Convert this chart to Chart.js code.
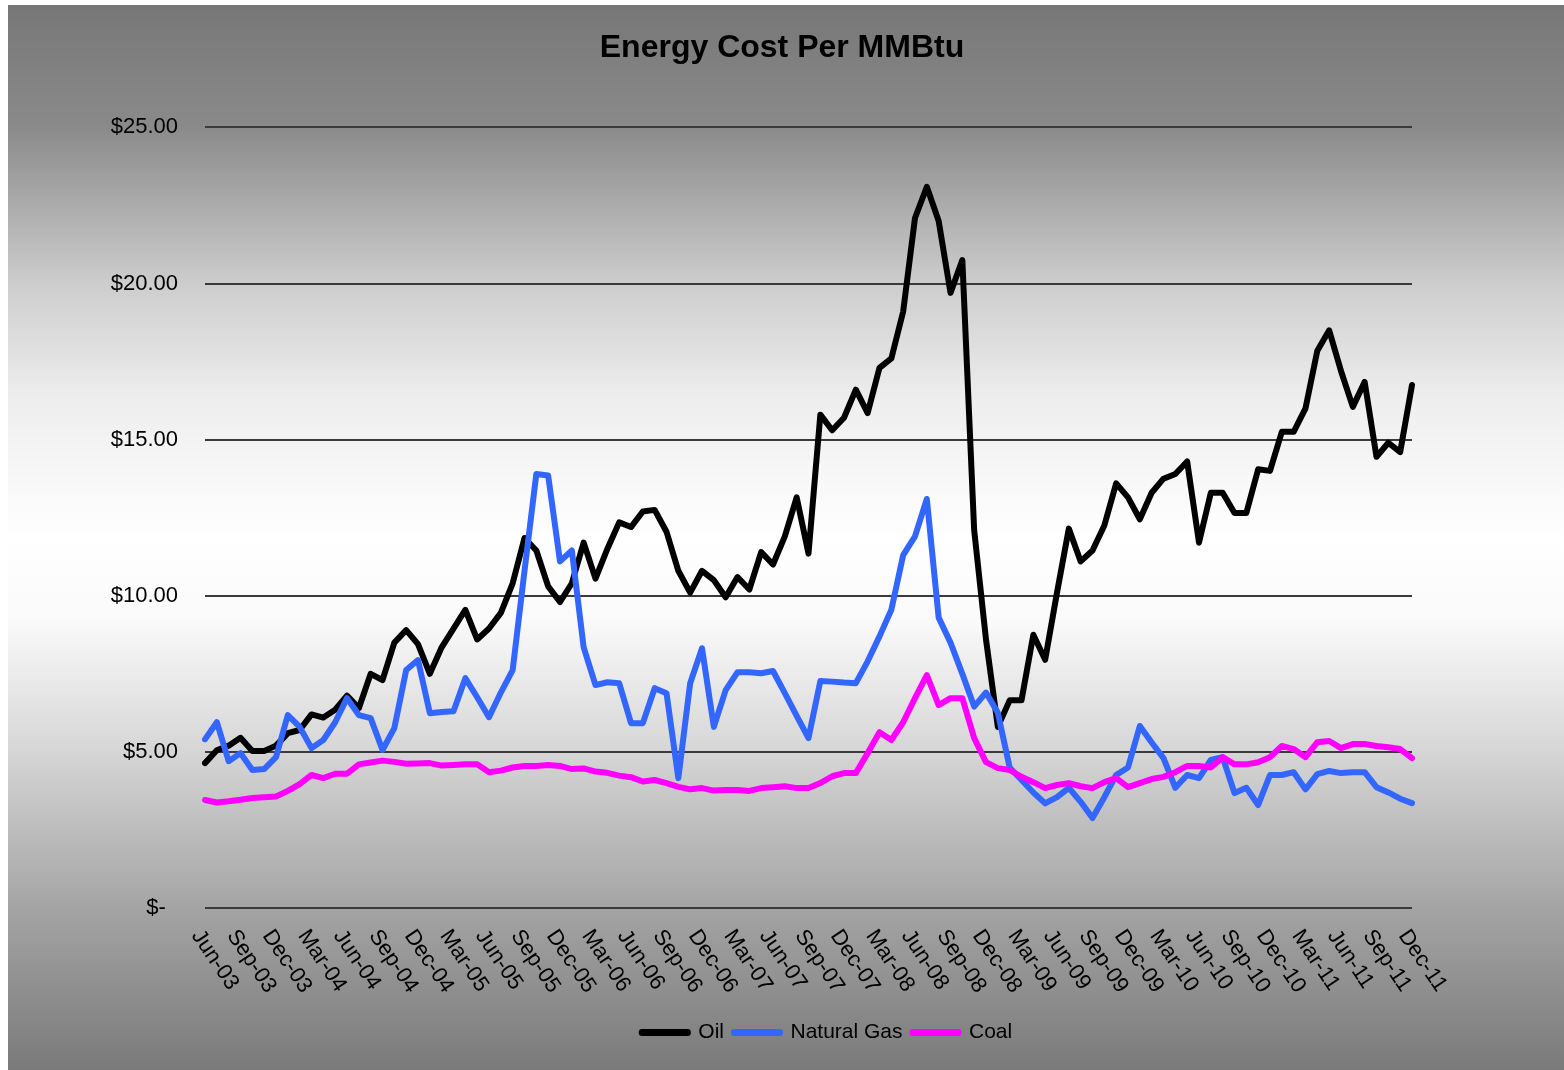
<!DOCTYPE html>
<html>
<head>
<meta charset="utf-8">
<title>Energy Cost Per MMBtu</title>
<script src="https://cdn.jsdelivr.net/npm/chart.js@4.4.1/dist/chart.umd.min.js"></script>
<style>
  html, body { margin: 0; padding: 0; background: #ffffff; }
  canvas { display: block; }
</style>
</head>
<body>
<canvas id="chart" width="1564" height="1070"></canvas>
<script>
// months Jun-03 .. Dec-11
const monthNames = ['Jan', 'Feb', 'Mar', 'Apr', 'May', 'Jun', 'Jul', 'Aug', 'Sep', 'Oct', 'Nov', 'Dec'];
const months = [];
for (let y = 2003; y <= 2011; y++) {
    for (let m = 0; m < 12; m++) {
        if (y === 2003 && m < 5) continue;
        months.push(monthNames[m] + '-' + String(y).slice(2));
    }
}

const oil = [
    4.64, 5.05, 5.2, 5.45, 5.03, 5.03, 5.2, 5.6, 5.7, 6.2,
    6.1, 6.35, 6.8, 6.4, 7.5, 7.3, 8.5, 8.9, 8.45, 7.5,
    8.35, 8.95, 9.55, 8.6, 8.95, 9.45, 10.4, 11.85, 11.45, 10.3,
    9.8, 10.4, 11.7, 10.55, 11.5, 12.35, 12.2, 12.7, 12.75, 12.05,
    10.8, 10.1, 10.8, 10.5, 9.95, 10.6, 10.2, 11.4, 11.0, 11.9,
    13.15, 11.35, 15.8, 15.3, 15.7, 16.6, 15.85, 17.3, 17.6, 19.1,
    22.1, 23.1, 22.0, 19.7, 20.75, 12.1, 8.6, 5.8, 6.65, 6.65,
    8.75, 7.95, 10.1, 12.15, 11.1, 11.45, 12.25, 13.6, 13.15, 12.45,
    13.3, 13.75, 13.9, 14.3, 11.7, 13.3, 13.3, 12.65, 12.65, 14.05,
    14.0, 15.25, 15.25, 16.0, 17.85, 18.5, 17.2, 16.05, 16.85, 14.45,
    14.9, 14.6, 16.75
];

const naturalGas = [
    5.4, 5.95, 4.7, 4.96, 4.42, 4.45, 4.83, 6.18, 5.8, 5.12,
    5.38, 5.95, 6.72, 6.18, 6.08, 5.06, 5.76, 7.62, 7.94, 6.24,
    6.28, 6.3, 7.36, 6.75, 6.11, 6.9, 7.62, 10.8, 13.9, 13.85,
    11.1, 11.45, 8.35, 7.14, 7.23, 7.2, 5.92, 5.92, 7.04, 6.88,
    4.16, 7.2, 8.32, 5.8, 6.98, 7.55, 7.55, 7.52, 7.59, 6.88,
    6.15, 5.44, 7.27, 7.25, 7.22, 7.2, 7.9, 8.7, 9.55, 11.3,
    11.9, 13.1, 9.3, 8.5, 7.5, 6.45, 6.9, 6.25, 4.5, 4.1,
    3.7, 3.35, 3.55, 3.85, 3.4, 2.88, 3.55, 4.26, 4.5, 5.83,
    5.3, 4.8, 3.85, 4.26, 4.16, 4.74, 4.83, 3.68, 3.85, 3.3,
    4.26, 4.26, 4.35, 3.8, 4.29, 4.39, 4.32, 4.35, 4.35, 3.87,
    3.7, 3.5, 3.36
];

const coal = [
    3.46, 3.38, 3.42, 3.47, 3.52, 3.55, 3.57, 3.75, 3.97, 4.26,
    4.16, 4.3, 4.3, 4.6, 4.66, 4.72, 4.68, 4.62, 4.63, 4.64,
    4.56, 4.58, 4.6, 4.6, 4.35, 4.4, 4.5, 4.55, 4.55, 4.58,
    4.55, 4.45, 4.47, 4.37, 4.33, 4.24, 4.19, 4.05, 4.1, 4.0,
    3.88, 3.8, 3.84, 3.76, 3.78, 3.78, 3.75, 3.84, 3.87, 3.9,
    3.84, 3.84, 4.0, 4.22, 4.32, 4.32, 4.96, 5.63, 5.38, 5.95,
    6.72, 7.46, 6.5, 6.72, 6.72, 5.44, 4.67, 4.48, 4.42, 4.2,
    4.03, 3.84, 3.94, 4.0, 3.9, 3.84, 4.03, 4.16, 3.87, 4.0,
    4.13, 4.2, 4.35, 4.55, 4.55, 4.5, 4.83, 4.6, 4.6, 4.67,
    4.83, 5.19, 5.09, 4.83, 5.31, 5.35, 5.12, 5.25, 5.25, 5.19,
    5.15, 5.09, 4.8
];

const FONT = '"Liberation Sans", Arial, sans-serif';

// grey-white-grey backdrop like the spreadsheet chart
const backdrop = {
    id: 'backdrop',
    beforeDraw(chart) {
        const {ctx, width, height} = chart;
        ctx.save();
        ctx.fillStyle = '#ffffff';
        ctx.fillRect(0, 0, width, height);
        const g = ctx.createLinearGradient(0, 0, 0, height);
        g.addColorStop(0, '#767676');
        g.addColorStop(127 / 1070, '#8a8a8a');
        g.addColorStop(284 / 1070, '#cdcdcd');
        g.addColorStop(400 / 1070, '#eeeeee');
        g.addColorStop(540 / 1070, '#ffffff');
        g.addColorStop(620 / 1070, '#fafafa');
        g.addColorStop(750 / 1070, '#d6d6d6');
        g.addColorStop(908 / 1070, '#a4a4a4');
        g.addColorStop(1, '#7a7a7a');
        ctx.fillStyle = g;
        ctx.fillRect(8, 5, width - 8, height - 5);
        ctx.restore();
    }
};

// month labels slanting down to the right, every third month
const slantedLabels = {
    id: 'slantedLabels',
    afterDraw(chart) {
        const {ctx, chartArea} = chart;
        const x = chart.scales.x;
        ctx.save();
        ctx.font = '22px ' + FONT;
        ctx.fillStyle = '#000000';
        ctx.textAlign = 'left';
        ctx.textBaseline = 'middle';
        months.forEach((m, i) => {
            if (i % 3 !== 0) return;
            ctx.save();
            ctx.translate(x.getPixelForValue(i) - 9, chartArea.bottom + 24);
            ctx.rotate(56 * Math.PI / 180);
            ctx.fillText(m, 0, 0);
            ctx.restore();
        });
        ctx.restore();
    }
};

// legend sits a bit right of centre in the original
const legendShift = {
    id: 'legendShift',
    afterLayout(chart) {
        if (chart.legend) {
            chart.legend.left += 45;
            chart.legend.right += 45;
        }
    }
};

new Chart(document.getElementById('chart'), {
    type: 'line',
    data: {
        labels: months,
        datasets: [
            { label: 'Oil', data: oil, borderColor: '#000000', backgroundColor: '#000000', order: 3 },
            { label: 'Natural Gas', data: naturalGas, borderColor: '#3366ff', backgroundColor: '#3366ff', order: 2 },
            { label: 'Coal', data: coal, borderColor: '#ff00ff', backgroundColor: '#ff00ff', order: 1 },
        ]
    },
    options: {
        responsive: false,
        animation: false,
        layout: { padding: { left: 0, right: 0, top: 0, bottom: 17 } },
        elements: {
            point: { radius: 0 },
            line: { tension: 0, borderWidth: 6, borderJoinStyle: 'round', borderCapStyle: 'round', fill: false }
        },
        plugins: {
            title: {
                display: true,
                text: 'Energy Cost Per MMBtu',
                color: '#000000',
                font: { family: FONT, size: 32, weight: 'bold' },
                padding: { top: 29, bottom: 60 }
            },
            legend: {
                position: 'bottom',
                labels: {
                    color: '#000000',
                    font: { family: FONT, size: 21 },
                    boxWidth: 46,
                    boxHeight: 1,
                    padding: 10,
                    sort: (a, b) => a.datasetIndex - b.datasetIndex
                }
            },
            tooltip: { enabled: false }
        },
        scales: {
            x: {
                grid: { display: false },
                border: { display: false },
                ticks: { display: false },
                afterFit: (s) => { s.height = 104; }
            },
            y: {
                min: 0,
                max: 25,
                ticks: {
                    stepSize: 5,
                    padding: 27,
                    color: '#000000',
                    font: { family: FONT, size: 22 },
                    callback: (v) => v === 0 ? '$-  ' : '$' + v.toFixed(2)
                },
                grid: { color: '#3a3a3a', lineWidth: 2, drawTicks: false },
                border: { display: false },
                afterFit: (s) => { s.width = 205; }
            },
            yRight: {
                position: 'right',
                grid: { display: false },
                border: { display: false },
                ticks: { display: false },
                afterFit: (s) => { s.width = 152; }
            }
        }
    },
    plugins: [backdrop, slantedLabels, legendShift]
});
</script>
</body>
</html>
